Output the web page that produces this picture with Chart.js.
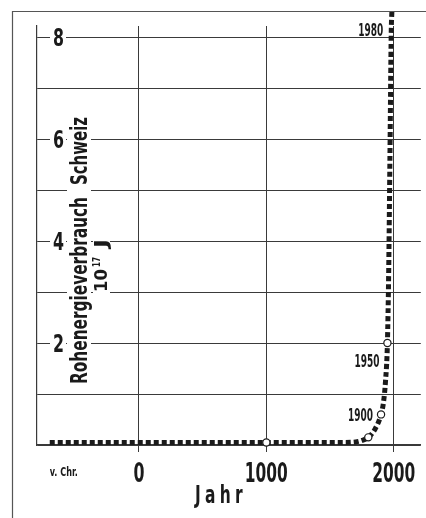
<!DOCTYPE html>
<html lang="de">
<head>
    <meta charset="UTF-8">
    <title>Rohenergieverbrauch Schweiz</title>
    <script src="https://cdn.jsdelivr.net/npm/chart.js"></script>
    <style>
        html, body { margin: 0; padding: 0; background: #fff; }
        .chart-container { width: 426px; height: 518px; position: relative; }
    </style>
</head>
<body>
    <div class="chart-container"><canvas id="energyChart"></canvas></div>

    <script>
        // Werte: Jahr und Rohenergieverbrauch in 10^17 J
        const years  = [-700, 0, 1000, 1600, 1700, 1750, 1800, 1850, 1900, 1920, 1935, 1950, 1960, 1970, 1980, 1985];
        const energy = [0.05, 0.05, 0.05, 0.05, 0.06, 0.09, 0.15, 0.3, 0.6, 0.85, 1.25, 2.0, 3.4, 5.7, 8.1, 8.5];
        const markedYears = [1000, 1800, 1900, 1950];
        const labelYears = [1900, 1950, 1980];
        const xTicks = [-590, 0, 1000, 2000];
        const xTickLabels = ['v. Chr.', '0', '1000', '2000'];
        const yTicks = [0, 1, 2, 3, 4, 5, 6, 7, 8];
        const yLabelled = [2, 4, 6, 8];

        const NARROW = "'Liberation Sans Narrow', 'DejaVu Sans Condensed', sans-serif";
        const INK = '#1a1a1a';
        const GRID = '#3a3a3a';

        const valueAt = y => energy[years.indexOf(y)];

        // the original uses a condensed face, so the text is squeezed to the measured width
        function squeeze(ctx, text, size, width) {
            ctx.font = 'bold ' + size + 'px ' + NARROW;
            const w = ctx.measureText(text).width;
            ctx.save();
            ctx.scale(width / w, 1);
            ctx.fillText(text, 0, 0);
            ctx.restore();
        }

        const decor = {
            id: 'decor',
            beforeDraw(chart) {
                const ctx = chart.ctx;
                ctx.save();
                ctx.fillStyle = '#fff';
                ctx.fillRect(0, 0, chart.width, chart.height);
                // outer frame (left and top only)
                ctx.strokeStyle = '#555';
                ctx.lineWidth = 1.2;
                ctx.beginPath();
                ctx.moveTo(12.5, chart.height);
                ctx.lineTo(12.5, 11.5);
                ctx.lineTo(chart.width, 11.5);
                ctx.stroke();
                ctx.restore();
            },
            afterDatasetsDraw(chart) {
                const ctx = chart.ctx;
                const xs = chart.scales.x, ys = chart.scales.y;
                const L = chart.chartArea.left, B = chart.chartArea.bottom;
                ctx.save();
                ctx.fillStyle = INK;
                ctx.textBaseline = 'alphabetic';
                ctx.textAlign = 'left';

                // y tick labels, inside the plot, breaking the grid lines
                yLabelled.forEach(v => {
                    const py = ys.getPixelForValue(v);
                    ctx.fillStyle = '#fff';
                    ctx.fillRect(L + 13, py - 2, 16, 4);
                    ctx.fillStyle = INK;
                    ctx.save();
                    ctx.translate(L + 16, py + 8.5);
                    squeeze(ctx, String(v), 24, 11);
                    ctx.restore();
                });

                // x tick labels
                xTicks.forEach((v, i) => {
                    const px = xs.getPixelForValue(v);
                    const text = xTickLabels[i];
                    const small = v < -100;
                    const w = small ? 28 : (text.length === 1 ? 11 : 43);
                    ctx.save();
                    ctx.translate(px - w / 2, small ? B + 31 : B + 36.5);
                    squeeze(ctx, text, small ? 12 : 26, w);
                    ctx.restore();
                });

                // y axis title, rotated, inside the plot
                ctx.save();
                ctx.fillStyle = '#fff';
                ctx.fillRect(L + 30, 114, 24, 274);
                ctx.fillRect(L + 56, 230, 17, 66);
                ctx.restore();

                ctx.save();
                ctx.translate(L + 50, 384);
                ctx.rotate(-Math.PI / 2);
                squeeze(ctx, 'Rohenergieverbrauch', 23, 187);
                ctx.translate(199, 0);
                squeeze(ctx, 'Schweiz', 23, 68);
                ctx.restore();

                ctx.save();
                ctx.translate(L + 70, 292);
                ctx.rotate(-Math.PI / 2);
                squeeze(ctx, '10', 18, 23);
                ctx.save();
                ctx.translate(25, -7);
                squeeze(ctx, '17', 10, 10);
                ctx.restore();
                ctx.translate(44, 0);
                squeeze(ctx, 'J', 18, 9);
                ctx.restore();

                // x axis title
                ctx.save();
                ctx.translate(195, B + 58);
                ctx.letterSpacing = '6px';
                squeeze(ctx, 'Jahr', 24, 52);
                ctx.restore();

                // year labels next to the curve
                const offsets = { 1900: 7, 1950: 24, 1980: 4 };
                labelYears.forEach(yr => {
                    const px = xs.getPixelForValue(yr);
                    const py = ys.getPixelForValue(valueAt(yr));
                    ctx.save();
                    ctx.translate(px - 33, py + offsets[yr]);
                    squeeze(ctx, String(yr), 17, 25);
                    ctx.restore();
                });
                ctx.restore();
            }
        };

        const ctx = document.getElementById('energyChart').getContext('2d');

        const energyChart = new Chart(ctx, {
            type: 'scatter',
            data: {
                datasets: [
                    {
                        label: 'Stützpunkte',
                        data: markedYears.map(yr => ({ x: yr, y: valueAt(yr) })),
                        showLine: false,
                        pointRadius: 3.6,
                        pointBorderWidth: 1.2,
                        pointBackgroundColor: '#fff',
                        pointBorderColor: INK,
                        clip: false
                    },
                    {
                        label: 'Rohenergieverbrauch',
                        data: years.map((yr, i) => ({ x: yr, y: energy[i] })),
                        showLine: true,
                        borderColor: INK,
                        borderWidth: 5,
                        borderDash: [5, 3],
                        borderCapStyle: 'butt',
                        cubicInterpolationMode: 'monotone',
                        pointRadius: 0,
                        fill: false,
                        clip: false
                    }
                ]
            },
            options: {
                responsive: true,
                maintainAspectRatio: false,
                animation: false,
                layout: { padding: { left: 37, right: 5, top: 26, bottom: 0 } },
                plugins: {
                    legend: { display: false },
                    tooltip: { enabled: false }
                },
                scales: {
                    x: {
                        type: 'linear',
                        min: -800,
                        max: 2212,
                        afterBuildTicks: s => { s.ticks = xTicks.map(v => ({ value: v })); },
                        afterFit: s => { s.height = 73; },
                        grid: {
                            color: c => (c.tick && c.tick.value < -100) ? 'rgba(0,0,0,0)' : GRID,
                            tickColor: c => (c.tick && c.tick.value < -100) ? 'rgba(0,0,0,0)' : GRID,
                            tickLength: 7,
                            lineWidth: 1
                        },
                        border: { color: GRID, width: 1.2 },
                        ticks: { display: false }
                    },
                    y: {
                        min: 0,
                        max: 8.22,
                        afterBuildTicks: s => { s.ticks = yTicks.map(v => ({ value: v })); },
                        afterFit: s => { s.width = 0; },
                        grid: { color: GRID, lineWidth: 1, drawTicks: false },
                        border: { color: GRID, width: 1.2 },
                        ticks: { display: false }
                    }
                }
            },
            plugins: [decor]
        });
    </script>
</body>
</html>
